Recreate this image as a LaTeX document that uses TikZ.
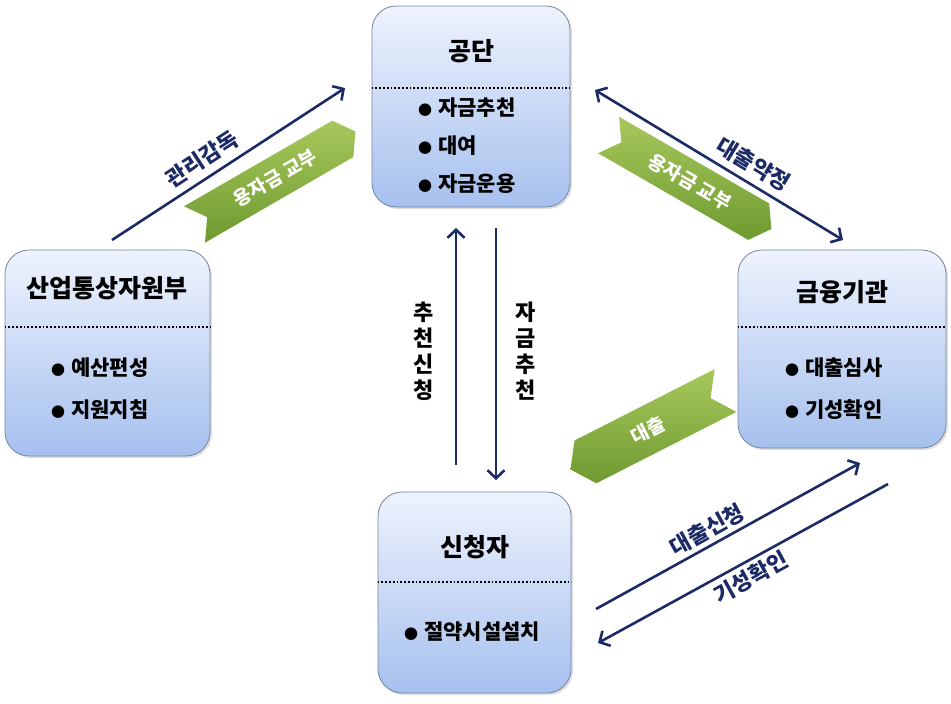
\documentclass[tikz,border=0pt]{standalone}
\usepackage{fontspec}
\setmainfont{Noto Sans CJK KR}
\usetikzlibrary{shapes.symbols,arrows.meta,shadows}

\definecolor{navy}{HTML}{1C2A66}
\definecolor{boxtop}{HTML}{EEF3FD}
\definecolor{boxbot}{HTML}{A6C0EE}
\definecolor{boxline}{HTML}{7485A3}
\definecolor{ribtop}{HTML}{A8C85C}
\definecolor{ribbot}{HTML}{6E9A30}

\newcommand{\dotb}{{\fontsize{14}{14}\selectfont●}\hspace{6pt}}

\tikzset{
  navybarb/.tip={Straight Barb[length=8pt,width=17pt]},
  box/.style={draw=boxline, line width=0.8pt, rounded corners=24pt,
    top color=boxtop, bottom color=boxbot,
    drop shadow={shadow xshift=2pt, shadow yshift=-2pt, opacity=0.25}},
  boxtitle/.style={font=\bfseries\fontsize{25}{25}\selectfont},
  item/.style={anchor=west, inner sep=0pt, font=\bfseries\fontsize{21}{21}\selectfont},
  sepline/.style={black, dotted, line width=1.8pt},
  flow/.style={navy, line width=2.6pt, -navybarb},
  flowlbl/.style={font=\bfseries\fontsize{22}{22}\selectfont, inner sep=4pt},
  ribbon/.style={signal, signal pointer angle=110, draw=none,
    top color=ribtop, bottom color=ribbot, text=white,
    font=\bfseries\fontsize{19}{19}\selectfont}
}

\begin{document}
\begin{tikzpicture}[x=1pt, y=-1pt]
  \useasboundingbox (0,0) rectangle (951,704);

  % 상자
  \node[box, minimum width=198pt, minimum height=201pt] (gongdan) at (471,106.5) {};
  \node[box, minimum width=205pt, minimum height=206pt] (sanup) at (107.5,353) {};
  \node[box, minimum width=208pt, minimum height=198pt] (geumyung) at (842,349) {};
  \node[box, minimum width=193pt, minimum height=201pt] (sincheong) at (474.5,592.5) {};

  % 제목과 점선
  \node[boxtitle] (gongdanT) at (471,51) {공단};
  \node[boxtitle] (sanupT) at (107.5,288) {산업통상자원부};
  \node[boxtitle] (geumyungT) at (842,292) {금융기관};
  \node[boxtitle] (sincheongT) at (474.5,547) {신청자};
  \draw[sepline] (gongdan.west |- {(0,88)}) -- (gongdan.east |- {(0,88)});
  \draw[sepline] (sanup.west |- {(0,327)}) -- (sanup.east |- {(0,327)});
  \draw[sepline] (geumyung.west |- {(0,327)}) -- (geumyung.east |- {(0,327)});
  \draw[sepline] (sincheong.west |- {(0,582)}) -- (sincheong.east |- {(0,582)});

  % 항목
  \node[item] (g1) at (418,108) {\dotb 자금추천};
  \node[item] (g2) at (418,146) {\dotb 대여};
  \node[item] (g3) at (418,184) {\dotb 자금운용};
  \node[item] (s1) at (51,368) {\dotb 예산편성};
  \node[item] (s2) at (51,410) {\dotb 지원지침};
  \node[item] (k1) at (785,368) {\dotb 대출심사};
  \node[item] (k2) at (785,410) {\dotb 기성확인};
  \node[item] (c1) at (404,632) {\dotb 절약시설설치};

  % 녹색 화살표
  \node[ribbon, signal to=east, signal from=west, rotate=30,
    minimum width=186pt, minimum height=42pt] (rib1) at (275,178) {용자금 교부};
  \node[ribbon, signal to=east, signal from=west, rotate=-30,
    minimum width=188pt, minimum height=42pt] (rib2) at (690,182) {용자금 교부};
  \node[ribbon, signal to=west, signal from=east, rotate=27,
    minimum width=174pt, minimum height=48pt] (rib3) at (648,430) {대출};

  % 화살표 끝점
  \coordinate (a1) at (112,240);
  \coordinate (a2) at (345,88);
  \coordinate (b1) at (595,90);
  \coordinate (b2) at (843,240);
  \coordinate (u1) at (456,465);
  \coordinate (u2) at (456,228);
  \coordinate (d1) at (496,228);
  \coordinate (d2) at (496,480);
  \coordinate (e1) at (596,609);
  \coordinate (e2) at (860,463);
  \coordinate (f1) at (888,484);
  \coordinate (f2) at (598,643);

  % 화살표
  \draw[flow] (a1) -- node[flowlbl, sloped, above=3pt, pos=0.43] {관리감독} (a2);
  \draw[flow, navybarb-navybarb] (b1) -- node[flowlbl, sloped, above=3pt, pos=0.6] {대출약정} (b2);
  \draw[flow] (u1) -- (u2);
  \draw[flow] (d1) -- (d2);
  \node[flowlbl, align=center, font=\bfseries\fontsize{22}{26}\selectfont] (uL) at (424,351) {추\\천\\신\\청};
  \node[flowlbl, align=center, font=\bfseries\fontsize{22}{26}\selectfont] (dL) at (526,351) {자\\금\\추\\천};
  \draw[flow] (e1) -- node[flowlbl, sloped, above, pos=0.45] {대출신청} (e2);
  \draw[flow] (f1) -- node[flowlbl, sloped, below, pos=0.5] {기성확인} (f2);
\end{tikzpicture}
\end{document}
